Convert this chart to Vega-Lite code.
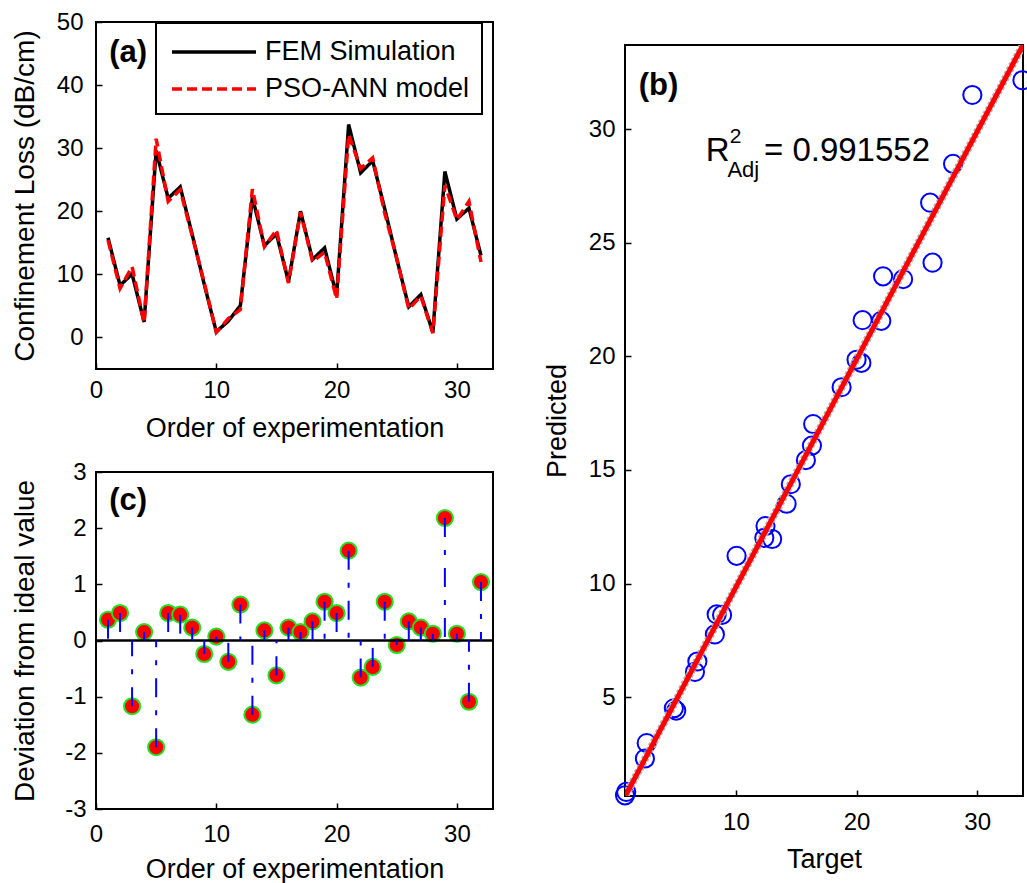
{
  "$schema": "https://vega.github.io/schema/vega-lite/v6.json",
  "background": "white",
  "padding": {"left": 10, "top": 9, "right": 0, "bottom": 0},
  "autosize": {"type": "pad"},
  "config": {
    "font": "Liberation Sans",
    "view": {"stroke": "black", "strokeWidth": 2},
    "axis": {
      "domain": false, "grid": false, "tickColor": "black", "tickSize": -6, "tickWidth": 1.5,
      "labelFontSize": 24, "labelColor": "black", "labelFont": "Liberation Sans",
      "titleFont": "Liberation Sans", "titleFontSize": 27, "titleFontWeight": "normal", "titleColor": "black",
      "labelFlush": false, "labelOverlap": false, "labelBound": false, "labelExpr": "'' + datum.value"
    },
    "legend": {"strokeWidth": 2},
    "text": {"font": "Liberation Sans", "color": "black"},
    "title": {"font": "Liberation Sans"}
  },
  "datasets": {
    "pts": [
      {"n": 1, "fem": 15.8, "pso": 15.43, "dev": 0.37},
      {"n": 2, "fem": 8.25, "pso": 7.76, "dev": 0.49},
      {"n": 3, "fem": 10.05, "pso": 11.22, "dev": -1.17},
      {"n": 4, "fem": 2.45, "pso": 2.3, "dev": 0.15},
      {"n": 5, "fem": 29.6, "pso": 31.5, "dev": -1.9},
      {"n": 6, "fem": 22.05, "pso": 21.56, "dev": 0.49},
      {"n": 7, "fem": 23.86, "pso": 23.4, "dev": 0.46},
      {"n": 8, "fem": 16.3, "pso": 16.07, "dev": 0.23},
      {"n": 9, "fem": 8.4, "pso": 8.64, "dev": -0.24},
      {"n": 10, "fem": 0.9, "pso": 0.83, "dev": 0.07},
      {"n": 11, "fem": 2.6, "pso": 2.98, "dev": -0.38},
      {"n": 12, "fem": 5.05, "pso": 4.41, "dev": 0.64},
      {"n": 13, "fem": 22.2, "pso": 23.52, "dev": -1.32},
      {"n": 14, "fem": 14.55, "pso": 14.37, "dev": 0.18},
      {"n": 15, "fem": 16.4, "pso": 17.02, "dev": -0.62},
      {"n": 16, "fem": 8.85, "pso": 8.62, "dev": 0.23},
      {"n": 17, "fem": 20.0, "pso": 19.85, "dev": 0.15},
      {"n": 18, "fem": 12.35, "pso": 12.01, "dev": 0.34},
      {"n": 19, "fem": 14.2, "pso": 13.51, "dev": 0.69},
      {"n": 20, "fem": 6.6, "pso": 6.11, "dev": 0.49},
      {"n": 21, "fem": 33.75, "pso": 32.15, "dev": 1.6},
      {"n": 22, "fem": 26.1, "pso": 26.76, "dev": -0.66},
      {"n": 23, "fem": 28.0, "pso": 28.47, "dev": -0.47},
      {"n": 24, "fem": 20.4, "pso": 19.71, "dev": 0.69},
      {"n": 25, "fem": 12.45, "pso": 12.53, "dev": -0.08},
      {"n": 26, "fem": 4.85, "pso": 4.51, "dev": 0.34},
      {"n": 27, "fem": 6.8, "pso": 6.57, "dev": 0.23},
      {"n": 28, "fem": 0.8, "pso": 0.68, "dev": 0.12},
      {"n": 29, "fem": 26.3, "pso": 24.12, "dev": 2.18},
      {"n": 30, "fem": 18.76, "pso": 18.64, "dev": 0.12},
      {"n": 31, "fem": 20.5, "pso": 21.59, "dev": -1.09},
      {"n": 32, "fem": 13.0, "pso": 11.96, "dev": 1.04}
    ],
    "fit": [
      {"t": 0.86, "p": 0.68},
      {"t": 33.8, "p": 33.7}
    ]
  },
  "columns": 2,
  "align": "none",
  "spacing": 46,
  "concat": [
    {
      "spacing": 17,
      "vconcat": [
        {
          "width": 397,
          "height": 347,
          "layer": [
            {
              "data": {"name": "pts"},
              "transform": [{"fold": ["fem", "pso"], "as": ["series", "val"]}],
              "mark": {"type": "line", "strokeWidth": 3.5},
              "encoding": {
                "x": {"field": "n", "type": "quantitative", "scale": {"domain": [0, 33], "nice": false, "zero": false},
                      "axis": {"values": [0, 10, 20, 30], "title": "Order of experimentation", "labelPadding": 15, "titlePadding": 13}},
                "y": {"field": "val", "type": "quantitative", "scale": {"domain": [-5, 50], "nice": false, "zero": false},
                      "axis": {"values": [0, 10, 20, 30, 40, 50], "title": "Confinement Loss (dB/cm)", "titleFontSize": 28,
                               "labelPadding": 19, "minExtent": 40, "maxExtent": 40, "titlePadding": 17}},
                "color": {"field": "series", "type": "nominal",
                          "scale": {"domain": ["fem", "pso"], "range": ["black", "red"]},
                          "legend": {"title": null, "orient": "none", "legendX": 60, "legendY": 1,
                                     "symbolType": "M-2.8,0H2.8", "symbolSize": 900, "symbolStrokeWidth": 3.5,
                                     "symbolOffset": 29, "labelOffset": 34, "labelFontSize": 27, "labelColor": "black", "labelLimit": 0,
                                     "padding": 12, "rowPadding": 7, "strokeColor": "black", "fillColor": "white",
                                     "labelExpr": "datum.label == 'fem' ? 'FEM Simulation' : 'PSO-ANN model'"}},
                "strokeDash": {"field": "series", "type": "nominal",
                               "scale": {"domain": ["fem", "pso"], "range": [[1, 0], [10, 5]]},
                               "legend": {"title": null, "orient": "none", "legendX": 60, "legendY": 1,
                                     "symbolType": "M-2.8,0H2.8", "symbolSize": 900, "symbolStrokeWidth": 3.5,
                                     "symbolOffset": 29, "labelOffset": 34, "labelFontSize": 27, "labelColor": "black", "labelLimit": 0,
                                     "padding": 12, "rowPadding": 7, "strokeColor": "black", "fillColor": "white",
                                     "labelExpr": "datum.label == 'fem' ? 'FEM Simulation' : 'PSO-ANN model'"}}
              }
            },
            {
              "data": {"values": [{}]},
              "mark": {"type": "text", "text": "(a)", "fontSize": 31, "fontWeight": "bold", "align": "left", "baseline": "alphabetic"},
              "encoding": {
                "x": {"datum": 1.1, "type": "quantitative", "scale": {"domain": [0, 33], "nice": false, "zero": false}},
                "y": {"datum": 43.6, "type": "quantitative", "scale": {"domain": [-5, 50], "nice": false, "zero": false}}
              }
            }
          ]
        },
        {
          "width": 397,
          "height": 337,
          "layer": [
            {
              "data": {"name": "pts"},
              "mark": {"type": "point", "shape": "circle", "filled": true, "fill": "red", "stroke": "#22e022", "strokeWidth": 2, "size": 260, "opacity": 1},
              "encoding": {
                "x": {"field": "n", "type": "quantitative", "scale": {"domain": [0, 33], "nice": false, "zero": false},
                      "axis": {"values": [0, 10, 20, 30], "title": "Order of experimentation", "labelPadding": 19, "titlePadding": 10}},
                "y": {"field": "dev", "type": "quantitative", "scale": {"domain": [-3, 3], "nice": false, "zero": false},
                      "axis": {"values": [-3, -2, -1, 0, 1, 2, 3], "title": "Deviation from ideal value", "titleFontSize": 28,
                               "labelPadding": 16, "minExtent": 40, "maxExtent": 40, "titlePadding": 17}}
              }
            },
            {
              "data": {"values": [{}]},
              "mark": {"type": "rule", "color": "black", "strokeWidth": 2.5},
              "encoding": {
                "y": {"datum": 0, "type": "quantitative", "scale": {"domain": [-3, 3], "nice": false, "zero": false}}
              }
            },
            {
              "data": {"name": "pts"},
              "mark": {"type": "rule", "color": "blue", "strokeWidth": 2, "strokeDash": [19, 13, 5, 13]},
              "encoding": {
                "x": {"field": "n", "type": "quantitative", "scale": {"domain": [0, 33], "nice": false, "zero": false}},
                "y": {"field": "dev", "type": "quantitative", "scale": {"domain": [-3, 3], "nice": false, "zero": false}},
                "y2": {"datum": 0}
              }
            },
            {
              "data": {"values": [{}]},
              "mark": {"type": "text", "text": "(c)", "fontSize": 31, "fontWeight": "bold", "align": "left", "baseline": "alphabetic"},
              "encoding": {
                "x": {"datum": 1.1, "type": "quantitative", "scale": {"domain": [0, 33], "nice": false, "zero": false}},
                "y": {"datum": 2.33, "type": "quantitative", "scale": {"domain": [-3, 3], "nice": false, "zero": false}}
              }
            }
          ]
        }
      ]
    },
    {
      "spacing": 10,
      "vconcat": [
        {
          "width": 398,
          "height": 12,
          "view": {"stroke": null},
          "data": {"values": []},
          "mark": {"type": "point"},
          "encoding": {}
        },
        {
          "width": 398,
          "height": 751,
          "layer": [
            {
              "data": {"name": "pts"},
              "mark": {"type": "point", "shape": "circle", "filled": false, "stroke": "blue", "strokeWidth": 2, "size": 330, "opacity": 1},
              "encoding": {
                "x": {"field": "fem", "type": "quantitative", "scale": {"domain": [0.8, 33.8], "nice": false, "zero": false},
                      "axis": {"values": [10, 20, 30], "title": "Target", "labelPadding": 20, "titlePadding": 12}},
                "y": {"field": "pso", "type": "quantitative", "scale": {"domain": [0.65, 33.7], "nice": false, "zero": false},
                      "axis": {"values": [5, 10, 15, 20, 25, 30], "title": "Predicted", "labelPadding": 16, "titlePadding": 17}}
              }
            },
            {
              "data": {"name": "fit"},
              "mark": {"type": "line", "color": "#b4b4b4", "strokeWidth": 8, "strokeDash": [3, 2], "clip": true},
              "encoding": {
                "x": {"field": "t", "type": "quantitative", "scale": {"domain": [0.8, 33.8], "nice": false, "zero": false}},
                "y": {"field": "p", "type": "quantitative", "scale": {"domain": [0.65, 33.7], "nice": false, "zero": false}}
              }
            },
            {
              "data": {"name": "fit"},
              "mark": {"type": "line", "color": "red", "strokeWidth": 5, "clip": true},
              "encoding": {
                "x": {"field": "t", "type": "quantitative", "scale": {"domain": [0.8, 33.8], "nice": false, "zero": false}},
                "y": {"field": "p", "type": "quantitative", "scale": {"domain": [0.65, 33.7], "nice": false, "zero": false}}
              }
            },
            {
              "data": {"values": [{}]},
              "mark": {"type": "text", "text": "(b)", "fontSize": 31, "fontWeight": "bold", "align": "left", "baseline": "alphabetic"},
              "encoding": {
                "x": {"datum": 1.94, "type": "quantitative", "scale": {"domain": [0.8, 33.8], "nice": false, "zero": false}},
                "y": {"datum": 31.5, "type": "quantitative", "scale": {"domain": [0.65, 33.7], "nice": false, "zero": false}}
              }
            },
            {
              "data": {"values": [{}]},
              "mark": {"type": "text", "text": "R", "fontSize": 33, "align": "left", "baseline": "alphabetic"},
              "encoding": {
                "x": {"datum": 7.49, "type": "quantitative", "scale": {"domain": [0.8, 33.8], "nice": false, "zero": false}},
                "y": {"datum": 28.61, "type": "quantitative", "scale": {"domain": [0.65, 33.7], "nice": false, "zero": false}}
              }
            },
            {
              "data": {"values": [{}]},
              "mark": {"type": "text", "text": "2", "fontSize": 21, "align": "left", "baseline": "alphabetic"},
              "encoding": {
                "x": {"datum": 9.48, "type": "quantitative", "scale": {"domain": [0.8, 33.8], "nice": false, "zero": false}},
                "y": {"datum": 29.4, "type": "quantitative", "scale": {"domain": [0.65, 33.7], "nice": false, "zero": false}}
              }
            },
            {
              "data": {"values": [{}]},
              "mark": {"type": "text", "text": "Adj", "fontSize": 22, "align": "left", "baseline": "alphabetic"},
              "encoding": {
                "x": {"datum": 9.29, "type": "quantitative", "scale": {"domain": [0.8, 33.8], "nice": false, "zero": false}},
                "y": {"datum": 27.91, "type": "quantitative", "scale": {"domain": [0.65, 33.7], "nice": false, "zero": false}}
              }
            },
            {
              "data": {"values": [{}]},
              "mark": {"type": "text", "text": "= 0.991552", "fontSize": 33, "align": "left", "baseline": "alphabetic"},
              "encoding": {
                "x": {"datum": 12.32, "type": "quantitative", "scale": {"domain": [0.8, 33.8], "nice": false, "zero": false}},
                "y": {"datum": 28.61, "type": "quantitative", "scale": {"domain": [0.65, 33.7], "nice": false, "zero": false}}
              }
            }
          ]
        }
      ]
    }
  ]
}
